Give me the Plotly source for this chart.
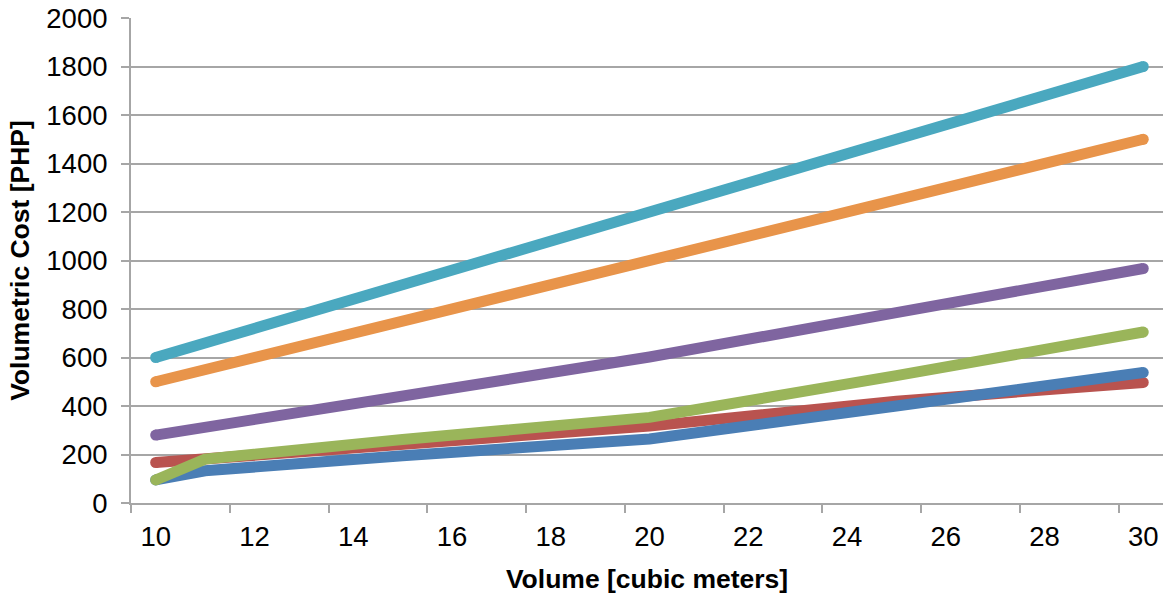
import plotly.graph_objects as go

volume = [10, 11, 15, 20, 25, 30]

cost_red = [167, 182, 245, 317, 420, 497]
cost_blue = [95, 133, 195, 264, 400, 538]
cost_green = [95, 181, 262, 353, 525, 705]
cost_purple = [280, 312, 440, 602, 785, 967]
cost_orange = [500, 550, 750, 1000, 1250, 1500]
cost_cyan = [600, 660, 900, 1200, 1500, 1800]

x_tick_labels = [10, 12, 14, 16, 18, 20, 22, 24, 26, 28, 30]
y_tick_labels = [0, 200, 400, 600, 800, 1000, 1200, 1400, 1600, 1800, 2000]

series = [
    ("Series red", cost_red, "#B9534F"),
    ("Series blue", cost_blue, "#4A7EB5"),
    ("Series green", cost_green, "#9AB55A"),
    ("Series purple", cost_purple, "#7F65A0"),
    ("Series orange", cost_orange, "#E8944A"),
    ("Series cyan", cost_cyan, "#4AA8BF"),
]

fig = go.Figure()
n = len(volume)
for name, vals, col in series:
    sizes = [11] + [0] * (n - 2) + [11]
    fig.add_trace(go.Scatter(
        x=volume, y=vals, name=name, mode="lines+markers",
        line=dict(color=col, width=11),
        marker=dict(color=col, size=sizes, opacity=1, line=dict(width=0)),
        showlegend=False, hoverinfo="skip",
    ))

gray = "#A6A6A6"
font_family = "Liberation Sans, Arial, sans-serif"

fig.update_layout(
    width=1168, height=596,
    margin=dict(l=131, r=5, t=18, b=93),
    paper_bgcolor="white", plot_bgcolor="white",
    font=dict(family=font_family, color="black", size=27),
    xaxis=dict(
        range=[9.5, 30.4], automargin=False,
        tickmode="array", tickvals=x_tick_labels,
        ticktext=[str(v) for v in x_tick_labels],
        ticks="", showgrid=False, zeroline=False,
        showline=True, linecolor=gray, linewidth=2,
        ticklabelstandoff=8,
        tickfont=dict(size=27.5),
        minor=dict(ticks="outside", tickmode="linear", tick0=9.5, dtick=2,
                   ticklen=8, tickwidth=2, tickcolor=gray, showgrid=False),
        title=dict(text="<b>Volume [cubic meters]</b>", font=dict(size=26.5), standoff=18),
    ),
    yaxis=dict(
        range=[0, 2000], automargin=False,
        tickmode="array", tickvals=y_tick_labels,
        ticks="outside", ticklen=8, tickwidth=2, tickcolor=gray,
        showgrid=True, gridcolor=gray, gridwidth=2,
        zeroline=False,
        showline=True, linecolor=gray, linewidth=2,
        ticklabelstandoff=8,
        tickfont=dict(size=27.5),
        title=dict(text="<b>Volumetric Cost [PHP]</b>", font=dict(size=26.5), standoff=9),
    ),
)

fig.write_html("out.html", config={"displayModeBar": False},
               post_script="document.body.style.margin='0';")
